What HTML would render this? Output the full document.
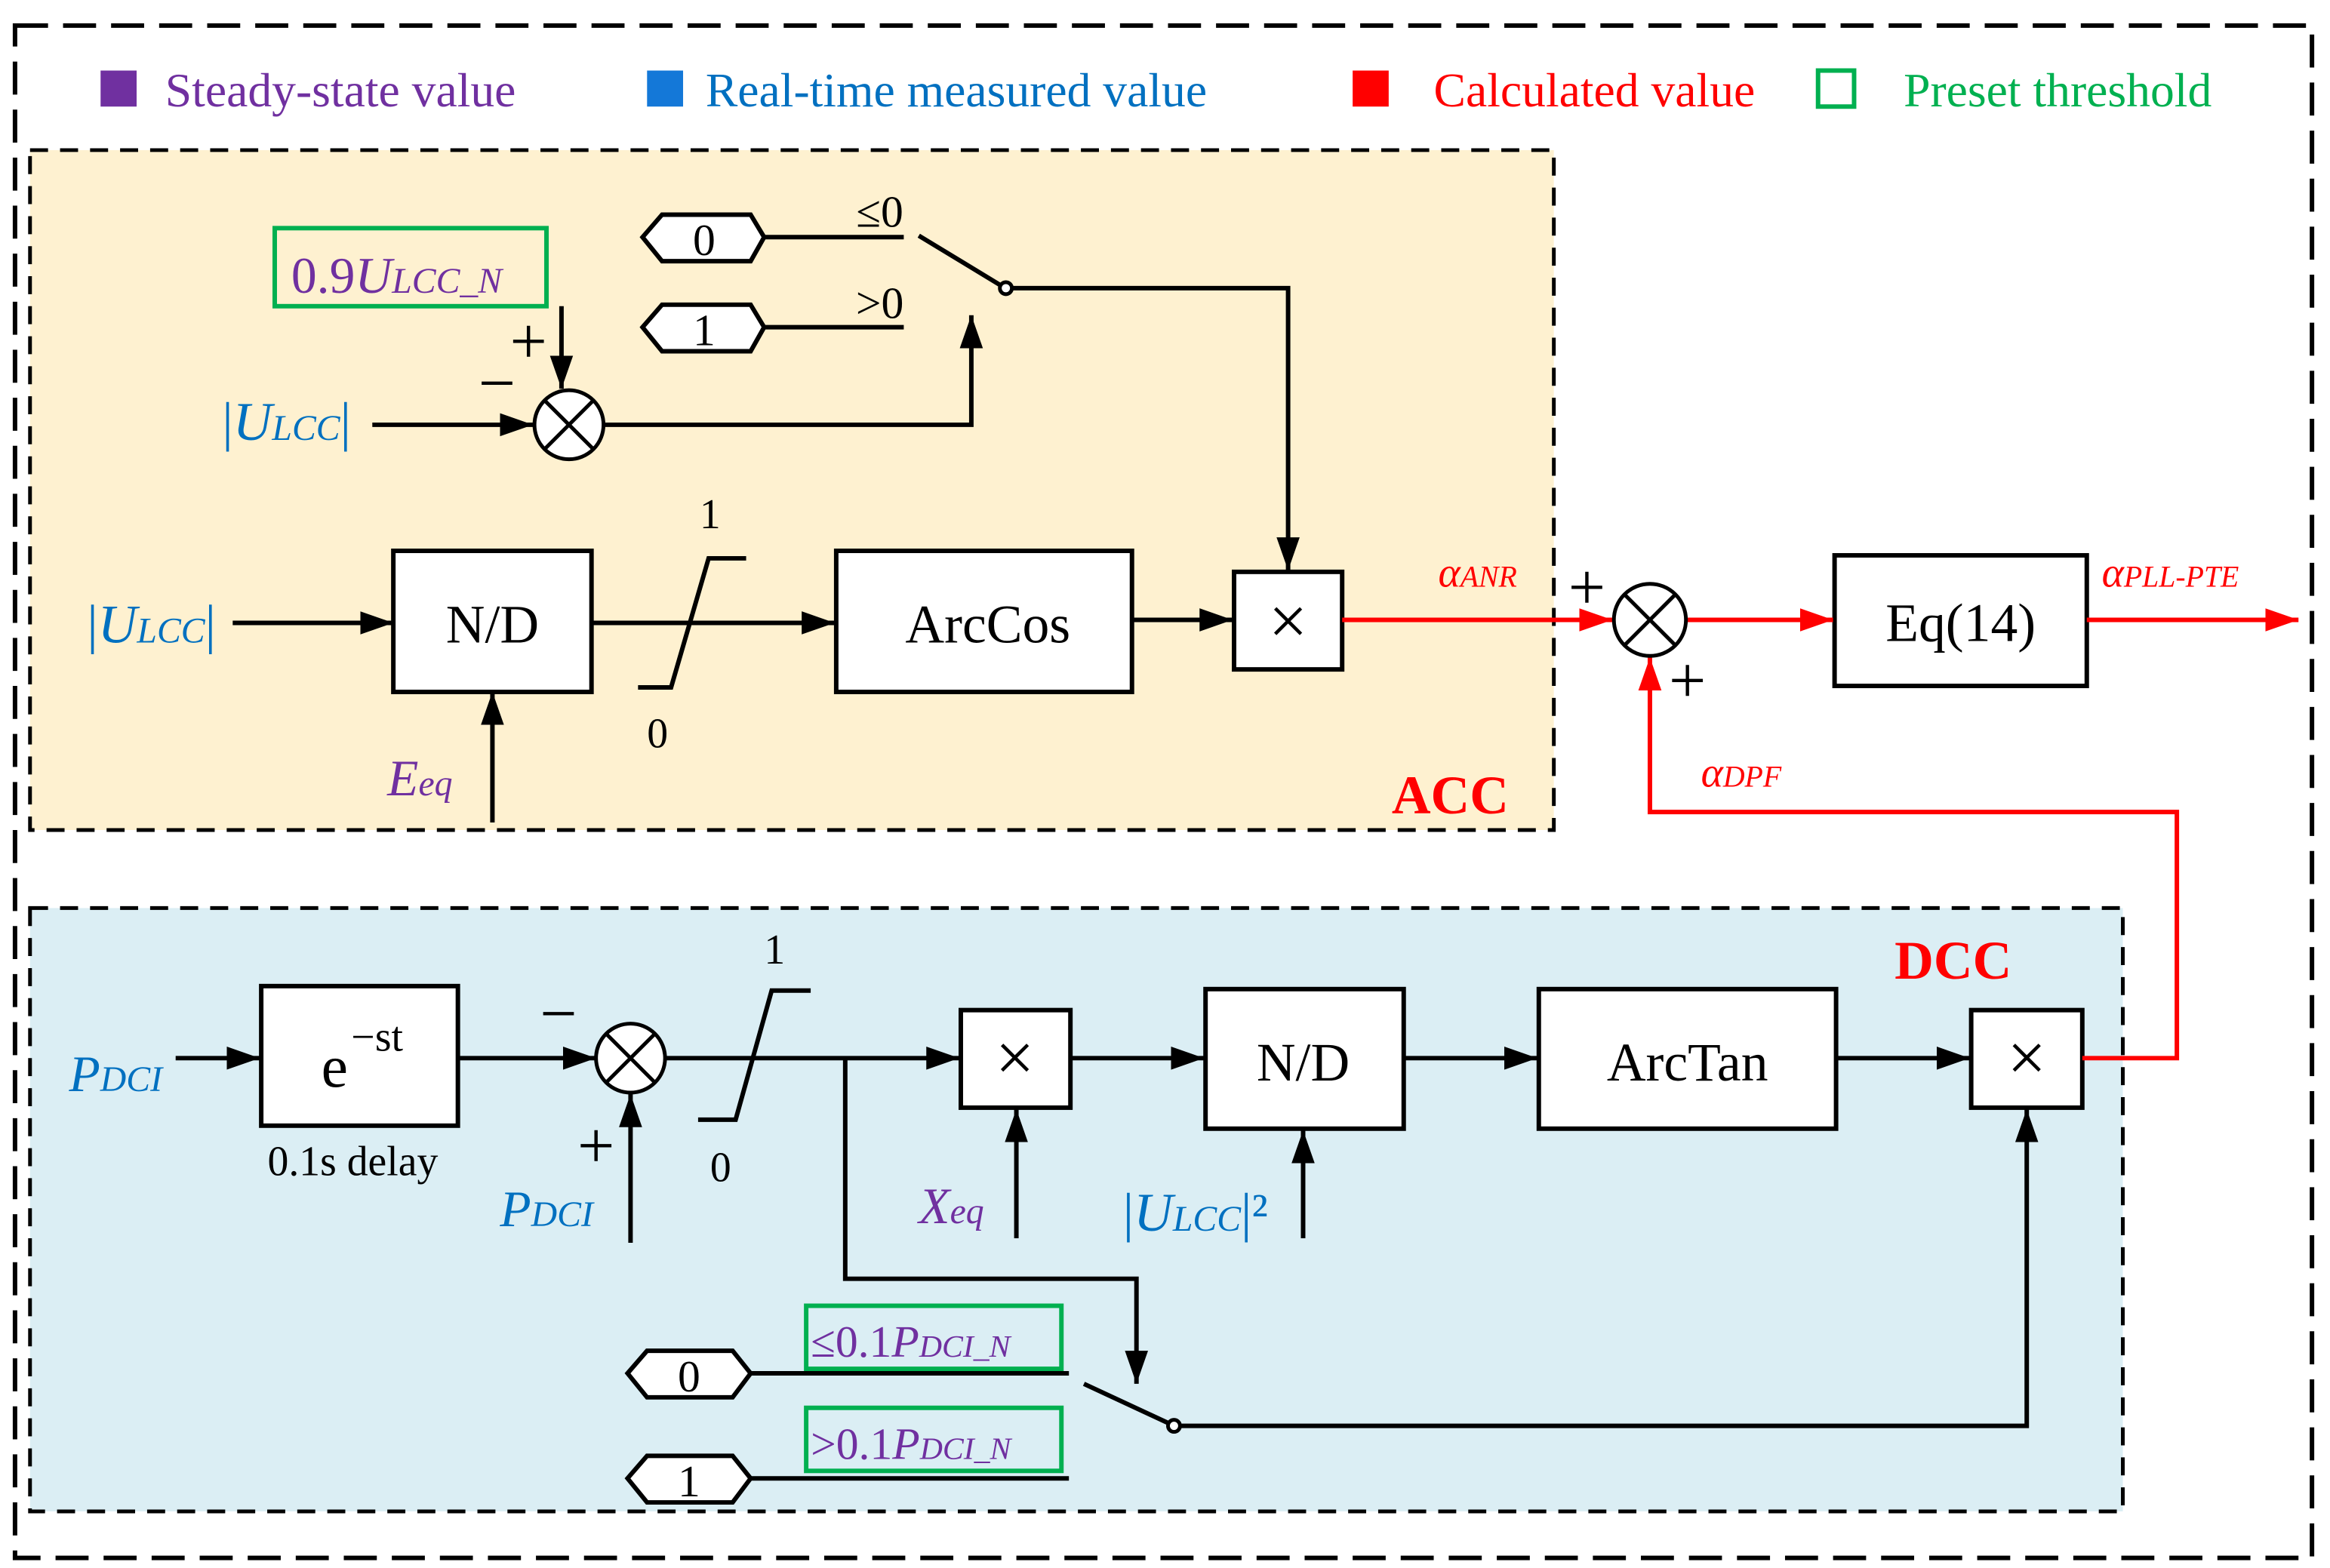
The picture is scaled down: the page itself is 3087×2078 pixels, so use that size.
<!DOCTYPE html>
<html><head><meta charset="utf-8"><style>
html,body{margin:0;padding:0;background:#fff}
svg{display:block}
text{font-family:"Liberation Serif",serif}
</style></head><body>
<svg width="3087" height="2078" viewBox="0 0 1552 1044.7" xmlns="http://www.w3.org/2000/svg" font-family="Liberation Serif, serif">
<defs>
<marker id="a" viewBox="0 0 10 10" refX="10" refY="5" markerWidth="22" markerHeight="22" markerUnits="userSpaceOnUse" orient="auto"><path d="M0,1.5 L10,5 L0,8.5 z" fill="#000"/></marker>
<marker id="r" viewBox="0 0 10 10" refX="10" refY="5" markerWidth="22" markerHeight="22" markerUnits="userSpaceOnUse" orient="auto"><path d="M0,1.5 L10,5 L0,8.5 z" fill="#f00"/></marker>
</defs>
<rect x="0" y="0" width="1552" height="1045" fill="#fff"/>
<rect x="10" y="17" width="1530" height="1021" fill="none" stroke="#000" stroke-width="3" stroke-dasharray="22,10"/>
<!-- legend -->
<rect x="67" y="47" width="24" height="24" fill="#7030a0"/>
<text x="110" y="71" font-size="32" fill="#7030a0" font-family="Liberation Serif, serif">Steady-state value</text>
<rect x="431" y="47" width="24" height="24" fill="#1478d8"/>
<text x="470" y="71" font-size="32" fill="#0070c0" font-family="Liberation Serif, serif">Real-time measured value</text>
<rect x="901" y="47" width="24" height="24" fill="#f00"/>
<text x="955" y="71" font-size="32" fill="#f00" font-family="Liberation Serif, serif">Calculated value</text>
<rect x="1211" y="47" width="24" height="24" fill="none" stroke="#00b050" stroke-width="3"/>
<text x="1268" y="71" font-size="32" fill="#00b050" font-family="Liberation Serif, serif">Preset threshold</text>
<!-- ACC box -->
<rect x="20" y="100" width="1015" height="453" fill="#fef1d0" stroke="#000" stroke-width="2.5" stroke-dasharray="12,8"/>
<!-- DCC box -->
<rect x="20" y="605" width="1394" height="402" fill="#dbeef4" stroke="#000" stroke-width="2.5" stroke-dasharray="12,8"/>

<g stroke="#000" stroke-width="3" fill="none">
<rect x="183" y="152" width="181" height="52" stroke="#00b050"/>
<polygon points="428,158 441,143 500,143 509,158 500,174 441,174" fill="#fff"/>
<polygon points="428,218 441,203 500,203 509,218 500,234 441,234" fill="#fff"/>
<line x1="509" y1="158" x2="602" y2="158"/>
<line x1="509" y1="218" x2="602" y2="218"/>
<line x1="612" y1="157" x2="668" y2="191"/>
<polyline points="670,192 858,192 858,380" marker-end="url(#a)"/>
<line x1="374" y1="204" x2="374" y2="259" marker-end="url(#a)"/>
<line x1="248" y1="283" x2="355" y2="283" marker-end="url(#a)"/>
<polyline points="402,283 647,283 647,210" marker-end="url(#a)"/>
<line x1="155" y1="415" x2="262" y2="415" marker-end="url(#a)"/>
<rect x="262" y="367" width="132" height="94" fill="#fff"/>
<line x1="328" y1="548" x2="328" y2="461" marker-end="url(#a)"/>
<line x1="394" y1="415" x2="556" y2="415" marker-end="url(#a)"/>
<polyline points="425,458 447,458 472,372 497,372"/>
<rect x="557" y="367" width="197" height="94" fill="#fff"/>
<line x1="754" y1="413" x2="821" y2="413" marker-end="url(#a)"/>
<rect x="822" y="381" width="72" height="65" fill="#fff"/>
<rect x="1222" y="370" width="168" height="87" fill="#fff"/>
<line x1="117" y1="705" x2="173" y2="705" marker-end="url(#a)"/>
<rect x="174" y="657" width="131" height="93" fill="#fff"/>
<line x1="305" y1="705" x2="397" y2="705" marker-end="url(#a)"/>
<line x1="420" y1="828" x2="420" y2="729" marker-end="url(#a)"/>
<polyline points="465,746 490,746 514,660 540,660"/>
<line x1="443" y1="705" x2="639" y2="705" marker-end="url(#a)"/>
<polyline points="563,705 563,852 757,852 757,922" marker-end="url(#a)"/>
<rect x="640" y="673" width="73" height="65" fill="#fff"/>
<line x1="677" y1="825" x2="677" y2="739" marker-end="url(#a)"/>
<line x1="713" y1="705" x2="802" y2="705" marker-end="url(#a)"/>
<rect x="803" y="659" width="132" height="93" fill="#fff"/>
<line x1="868" y1="825" x2="868" y2="753" marker-end="url(#a)"/>
<line x1="935" y1="705" x2="1024" y2="705" marker-end="url(#a)"/>
<rect x="1025" y="659" width="198" height="93" fill="#fff"/>
<line x1="1223" y1="705" x2="1312" y2="705" marker-end="url(#a)"/>
<rect x="1313" y="673" width="74" height="65" fill="#fff"/>
<polygon points="418,915 431,900 488,900 500,915 488,931 431,931" fill="#fff"/>
<polygon points="418,985 431,970 488,970 500,985 488,1001 431,1001" fill="#fff"/>
<line x1="500" y1="915" x2="712" y2="915"/>
<line x1="500" y1="985" x2="712" y2="985"/>
<rect x="537" y="870" width="170" height="42" stroke="#00b050"/>
<rect x="537" y="938" width="170" height="42" stroke="#00b050"/>
<line x1="722" y1="922" x2="780" y2="949"/>
<polyline points="783,950 1350,950 1350,739" marker-end="url(#a)"/>
</g>
<g stroke="#f00" stroke-width="3" fill="none">
<line x1="894" y1="413" x2="1074" y2="413" marker-end="url(#r)"/>
<line x1="1123" y1="413" x2="1221" y2="413" marker-end="url(#r)"/>
<line x1="1390" y1="413" x2="1531" y2="413" marker-end="url(#r)"/>
<polyline points="1387,705 1450,705 1450,541 1099,541 1099,438" marker-end="url(#r)"/>
</g>
<g stroke="#000" stroke-width="2.5" fill="#fff">
<circle cx="379" cy="283" r="23"/>
<line x1="363" y1="267" x2="395" y2="299"/><line x1="395" y1="267" x2="363" y2="299"/>
<circle cx="1099" cy="413" r="24"/>
<line x1="1082" y1="396" x2="1116" y2="430"/><line x1="1116" y1="396" x2="1082" y2="430"/>
<circle cx="420" cy="705" r="23"/>
<line x1="404" y1="689" x2="436" y2="721"/><line x1="436" y1="689" x2="404" y2="721"/>
<circle cx="670" cy="192" r="4"/>
<circle cx="782" cy="950" r="4"/>
</g>
<g font-size="34" fill="#000" text-anchor="middle">
<text x="469" y="170" font-size="30">0</text>
<text x="469" y="230" font-size="30">1</text>
<text x="459" y="927" font-size="30">0</text>
<text x="459" y="997" font-size="30">1</text>
<text x="328" y="428" font-size="36">N/D</text>
<text x="658" y="428" font-size="36">ArcCos</text>
<text x="858" y="429" font-size="46">×</text>
<text x="1306" y="427" font-size="36">Eq(14)</text>
<text x="676" y="720" font-size="46">×</text>
<text x="868" y="720" font-size="36">N/D</text>
<text x="1124" y="720" font-size="36">ArcTan</text>
<text x="1350" y="720" font-size="46">×</text>
<text x="473" y="352" font-size="28">1</text>
<text x="438" y="498" font-size="28">0</text>
<text x="516" y="642" font-size="28">1</text>
<text x="480" y="787" font-size="28">0</text>
<text x="586" y="151" font-size="30">≤0</text>
<text x="586" y="212" font-size="30">&gt;0</text>
<text x="235" y="783" font-size="28">0.1s delay</text>
</g>
<text x="214" y="724" font-size="40">e</text>
<text x="234" y="700" font-size="28">−st</text>
<g font-size="44" fill="#000" text-anchor="middle">
<text x="352" y="242">+</text>
<text x="331" y="270">−</text>
<text x="1057" y="406">+</text>
<text x="1124" y="468">+</text>
<text x="372" y="690">−</text>
<text x="397" y="778">+</text>
</g>
<text x="194" y="195" font-size="34" fill="#7030a0">0.9<tspan font-style="italic">U</tspan><tspan font-size="24" font-style="italic">LCC_N</tspan></text>
<text x="148" y="293" font-size="36" fill="#0070c0">|<tspan font-style="italic">U</tspan><tspan font-size="24" font-style="italic">LCC</tspan>|</text>
<text x="58" y="428" font-size="36" fill="#0070c0">|<tspan font-style="italic">U</tspan><tspan font-size="24" font-style="italic">LCC</tspan>|</text>
<text x="258" y="530" font-size="34" fill="#7030a0" font-style="italic">E<tspan font-size="24">eq</tspan></text>
<text x="958" y="391" font-size="28" fill="#f00" font-style="italic">α<tspan font-size="20">ANR</tspan></text>
<text x="1400" y="391" font-size="28" fill="#f00" font-style="italic">α<tspan font-size="20">PLL-PTE</tspan></text>
<text x="1133" y="524" font-size="28" fill="#f00" font-style="italic">α<tspan font-size="20">DPF</tspan></text>
<text x="927" y="542" font-size="36" fill="#f00" font-weight="bold">ACC</text>
<text x="1262" y="652" font-size="36" fill="#f00" font-weight="bold">DCC</text>
<text x="46" y="727" font-size="34" fill="#0070c0" font-style="italic">P<tspan font-size="24">DCI</tspan></text>
<text x="333" y="817" font-size="34" fill="#0070c0" font-style="italic">P<tspan font-size="24">DCI</tspan></text>
<text x="612" y="815" font-size="34" fill="#7030a0" font-style="italic">X<tspan font-size="24">eq</tspan></text>
<text x="748" y="820" font-size="36" fill="#0070c0">|<tspan font-style="italic">U</tspan><tspan font-size="24" font-style="italic">LCC</tspan>|²</text>
<text x="540" y="904" font-size="30" fill="#7030a0">≤0.1<tspan font-style="italic">P</tspan><tspan font-size="21" font-style="italic">DCI_N</tspan></text>
<text x="540" y="972" font-size="30" fill="#7030a0">&gt;0.1<tspan font-style="italic">P</tspan><tspan font-size="21" font-style="italic">DCI_N</tspan></text>
</svg>
</body></html>
